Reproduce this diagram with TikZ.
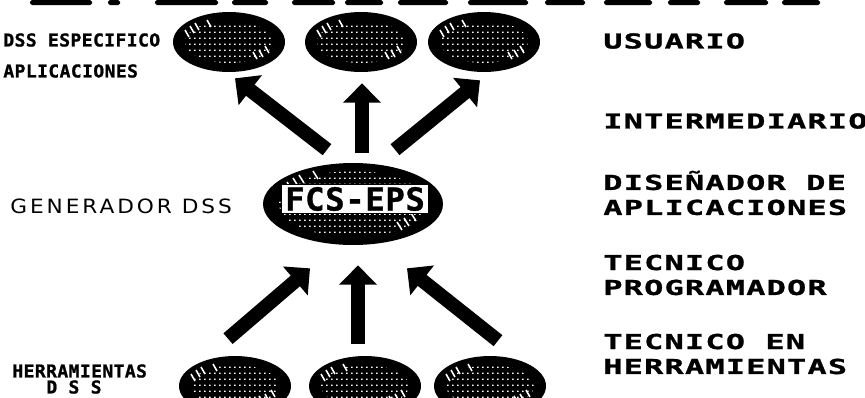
\documentclass[tikz,border=0pt]{standalone}
\usepackage{fontspec}
\usetikzlibrary{positioning,arrows.meta,calc,shapes.geometric,patterns}
\newfontfamily\rolefont[FakeStretch=1.55,LetterSpace=6,FakeBold=1.2]{DejaVu Sans Mono}
\newfontfamily\tagfont[FakeStretch=1.02,FakeBold=1,LetterSpace=2]{DejaVu Sans Mono}
\newfontfamily\genfont[FakeStretch=1.1,LetterSpace=15]{DejaVu Sans}
\definecolor{ink}{HTML}{000000}
\pgfdeclarepatternformonly{pixdots}{\pgfpointorigin}{\pgfpoint{3pt}{3.6pt}}{\pgfpoint{3pt}{3.6pt}}{%
  \pgfpathrectangle{\pgfpointorigin}{\pgfpoint{1pt}{0.9pt}}\pgfusepath{fill}}
\tikzset{
  blob/.style={ellipse, fill=ink, inner sep=0pt, minimum width=2.24cm, minimum height=1.2cm},
  dotfill/.style={pattern=pixdots, pattern color=white},
  streak/.style={draw=white, line width=0.9pt},
  bigarrow/.style={draw=ink, line width=8pt, -{Triangle[length=11pt,width=21pt]}},
  tag/.style={inner sep=0pt, font=\tagfont\bfseries\fontsize{10.1}{12}\selectfont},
  gentag/.style={inner sep=0pt, font=\genfont\fontsize{11.2}{13}\selectfont},
  role/.style={inner sep=0pt, anchor=west, align=left, font=\rolefont\bfseries\fontsize{11.7}{14.2}\selectfont}
}

\begin{document}
\begin{tikzpicture}[x=0.02cm,y=-0.02cm]
\useasboundingbox (0,0) rectangle (865,397);
\foreach \a/\b in {30/92,108/120,155/218,232/268,292/335,345/383,398/448,468/528,545/585,604/652,668/700,724/768,782/820}
  \fill[ink, rounded corners=1pt] (\a,0) rectangle (\b,5);

\node[blob] (u1) at (229,42) {};
\node[blob] (u2) at (361,42) {};
\node[blob] (u3) at (484,42) {};
\node[blob, minimum width=3.6cm, minimum height=1.64cm] (gen) at (353,204) {};
\node[blob] (h1) at (235,386) {};
\node[blob] (h2) at (365,386) {};
\node[blob] (h3) at (490,386) {};

\foreach \n in {u1,u2,u3,h1,h2,h3} {
  \fill[dotfill] (\n.center) ellipse [x radius=44, y radius=21];
  \foreach \dx/\dy in {-44/-12,-39/-16,-34/-19,-22/-22,24/10,30/8,36/4}
    \draw[streak] ($(\n.center)+(\dx,\dy)$) -- ++(4,7);
}
\fill[dotfill] (gen.center) ellipse [x radius=74, y radius=33];
\foreach \dx/\dy in {-66/-22,-60/-26,-54/-29,-40/-33,44/18,51/14,58/9}
  \draw[streak] ($(gen.center)+(\dx,\dy)$) -- ++(5,8);
\node[fill=white, draw=ink, line width=1pt, inner xsep=2pt, inner ysep=1.5pt,
  font=\tagfont\bfseries\fontsize{18}{20}\selectfont] (fcs) at ($(gen.center)+(2,-5)$) {FCS-EPS};

\draw[bigarrow] ($(gen.north)+(-26,-13)$) -- ($(u1.south)+(6,6)$);
\draw[bigarrow] ($(gen.north)+(9,-10)$) -- ($(u2.south)+(1,11)$);
\draw[bigarrow] ($(gen.north)+(42,-13)$) -- ($(u3.south)+(-4,8)$);
\draw[bigarrow] ($(h1.north)+(-7,-17)$) -- ($(gen.south)+(-43,23)$);
\draw[bigarrow] ($(h2.north)+(-7,-12)$) -- ($(gen.south)+(5,20)$);
\draw[bigarrow] ($(h3.north)+(8,-15)$) -- ($(gen.south)+(54,23)$);

\node[tag, anchor=west] (esp) at (3,40) {DSS ESPECIFICO};
\node[tag, anchor=west] (apl) at (3,71) {APLICACIONES};
\node[gentag, anchor=west] (gtx) at (10,206) {GENERADOR DSS};
\node[tag, anchor=west] (her) at (12,371) {HERRAMIENTAS};
\node[tag] (dss) at (74,387) {D S S};

\node[role] (usu) at (603,41) {USUARIO};
\node[role] (int) at (603,121) {INTERMEDIARIO};
\node[role] (dis) at (603,193) {DISEÑADOR DE\\APLICACIONES};
\node[role] (pro) at (603,275) {TECNICO\\PROGRAMADOR};
\node[role] (tec) at (603,354) {TECNICO EN\\HERRAMIENTAS};
\end{tikzpicture}
\end{document}
